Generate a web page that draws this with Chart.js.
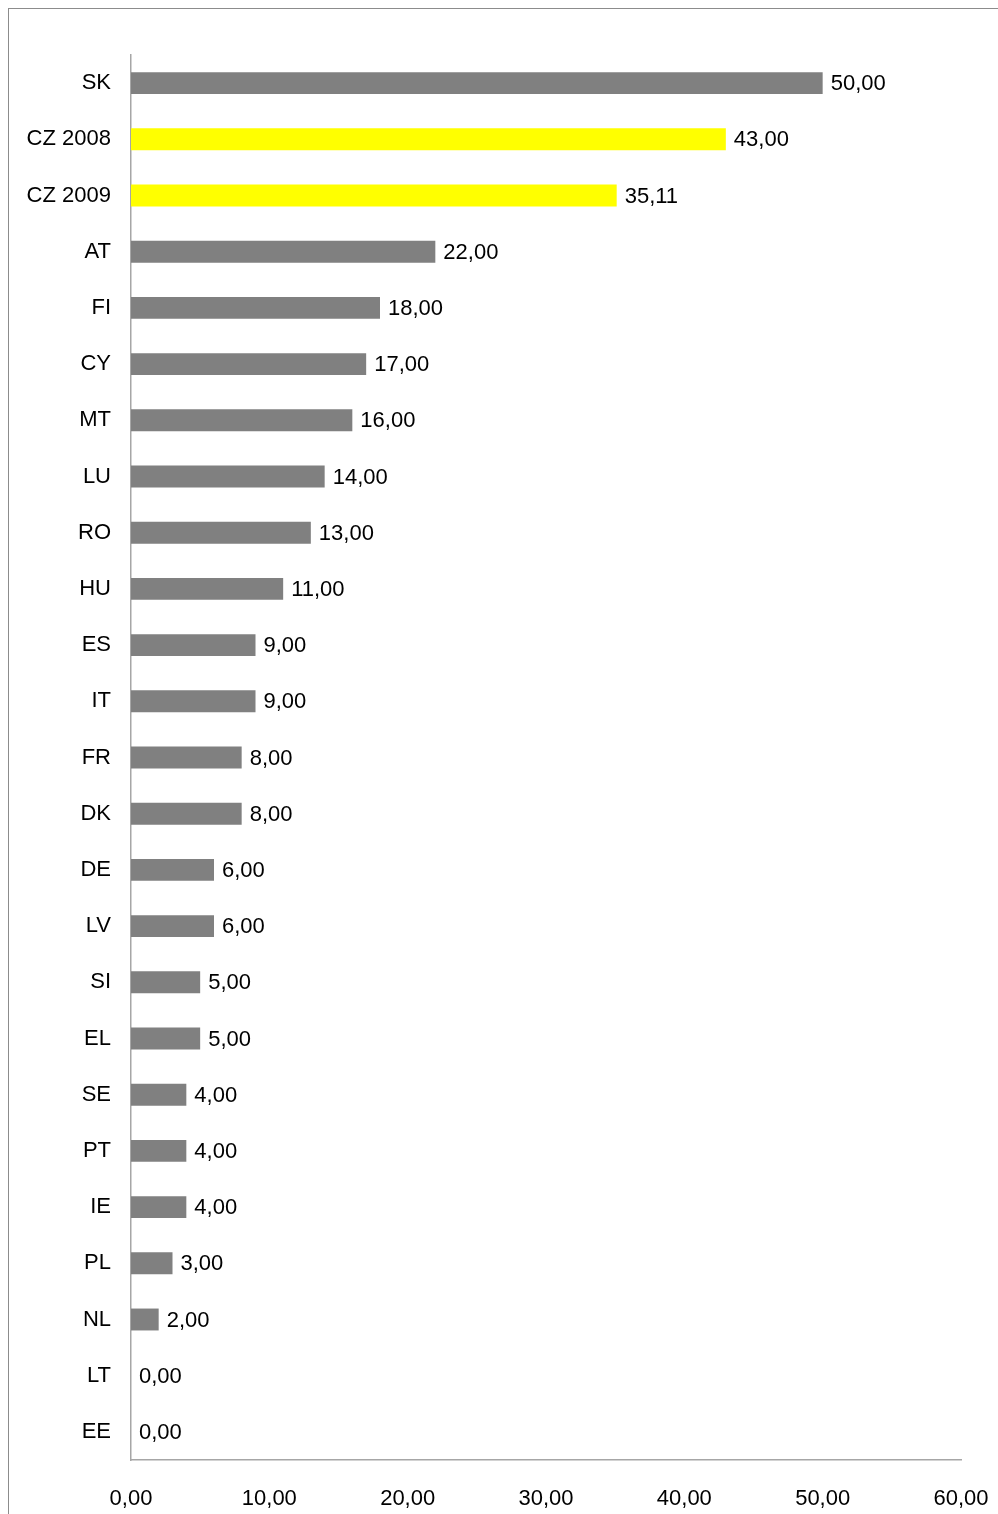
<!DOCTYPE html>
<html>
<head>
<meta charset="utf-8">
<script src="https://cdn.jsdelivr.net/npm/chart.js@4/dist/chart.umd.min.js"></script>
<style>
  html, body { margin: 0; padding: 0; background: #fff; overflow: hidden; }
  #wrap { position: relative; width: 998px; height: 1514px; }
  #frame { position: absolute; left: 8px; top: 8px; width: 1100px; height: 1600px; border: 1px solid #8c8c8c; box-sizing: border-box; }
  canvas { position: absolute; left: 0; top: 0; }
</style>
</head>
<body>
<div id="wrap">
  <div id="frame"></div>
  <canvas id="c" width="998" height="1514"></canvas>
</div>
<script>
const categories = ['SK','CZ 2008','CZ 2009','AT','FI','CY','MT','LU','RO','HU','ES','IT','FR','DK','DE','LV','SI','EL','SE','PT','IE','PL','NL','LT','EE'];
const values = [50, 43, 35.11, 22, 18, 17, 16, 14, 13, 11, 9, 9, 8, 8, 6, 6, 5, 5, 4, 4, 4, 3, 2, 0, 0];
const highlighted = ['CZ 2008', 'CZ 2009'];
const xTicks = [0, 10, 20, 30, 40, 50, 60];

const FONT = "'Liberation Sans Narrow', 'Arial Narrow', 'Liberation Sans', Arial, sans-serif";
const FSIZE = 22;
const fmt = v => v.toFixed(2).replace('.', ',');

const labelPlugin = {
  id: 'barLabels',
  afterDatasetsDraw(chart) {
    const ctx = chart.ctx;
    const meta = chart.getDatasetMeta(0);
    ctx.save();
    ctx.font = FSIZE + 'px ' + FONT;
    ctx.fillStyle = '#000';
    ctx.textAlign = 'left';
    ctx.textBaseline = 'middle';
    meta.data.forEach((bar, i) => {
      ctx.fillText(fmt(values[i]), bar.x + 8, bar.y + 1);
    });
    ctx.restore();
  }
};

new Chart(document.getElementById('c'), {
  type: 'bar',
  data: {
    labels: categories,
    datasets: [{
      data: values,
      backgroundColor: categories.map(c => highlighted.includes(c) ? '#FFFF00' : '#808080'),
      borderWidth: 0,
      barPercentage: 0.39,
      categoryPercentage: 1.0
    }]
  },
  options: {
    indexAxis: 'y',
    responsive: false,
    animation: false,
    layout: { padding: { left: 0, right: 0, top: 55, bottom: 0 } },
    plugins: { legend: { display: false }, tooltip: { enabled: false } },
    scales: {
      x: {
        min: 0, max: 60,
        afterBuildTicks(scale) { scale.ticks = xTicks.map(v => ({ value: v })); },
        afterFit(scale) { scale.height = 54; scale.paddingRight = 37; scale.paddingLeft = 0; },
        grid: { display: false, drawTicks: false },
        border: { display: true, color: '#a6a6a6', width: 1.5 },
        ticks: {
          padding: 26,
          color: '#000',
          font: { family: FONT, size: FSIZE },
          callback: v => fmt(v),
          maxRotation: 0
        }
      },
      y: {
        afterFit(scale) { scale.width = 131; scale.paddingTop = 0; scale.paddingBottom = 0; },
        grid: { display: false, drawTicks: false },
        border: { display: true, color: '#a6a6a6', width: 1.5 },
        ticks: {
          padding: 20,
          color: '#000',
          font: { family: FONT, size: FSIZE },
          autoSkip: false
        }
      }
    }
  },
  plugins: [labelPlugin]
});
</script>
</body>
</html>
